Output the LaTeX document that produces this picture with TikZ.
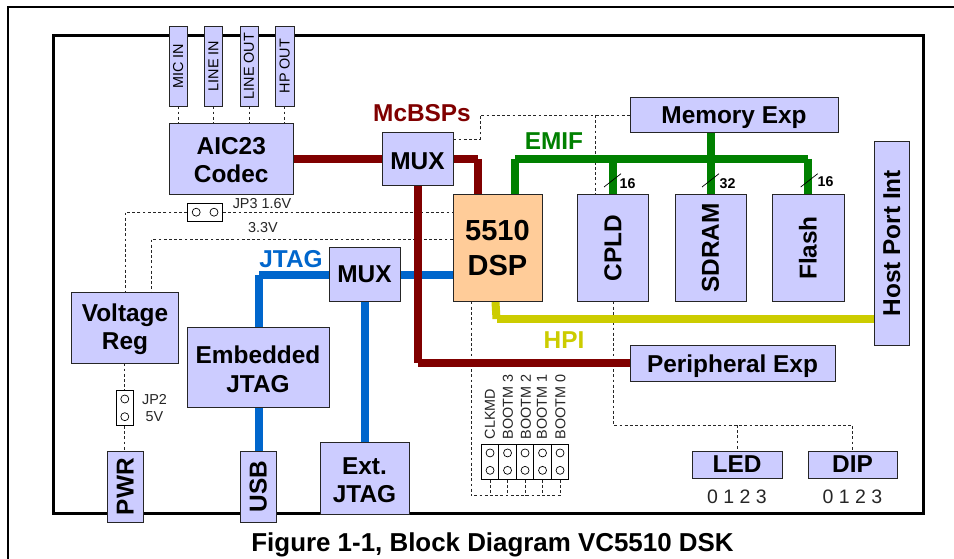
\documentclass[tikz,border=0pt]{standalone}
\usepackage{fontspec}
\usepackage{graphicx}
\setmainfont{Liberation Sans}
\usetikzlibrary{calc}
\pgfdeclarelayer{background}
\pgfsetlayers{background,main}
\definecolor{boxblue}{HTML}{CCCCFF}
\definecolor{dspfill}{HTML}{FFCC99}
\definecolor{busred}{HTML}{800000}
\definecolor{busblue}{HTML}{0066CC}
\definecolor{busgreen}{HTML}{008000}
\definecolor{busyellow}{HTML}{CCCC00}
\newcommand{\bigf}{\fontsize{24.4}{28.3}\selectfont\bfseries}
\newcommand{\smallf}{\fontsize{14.4}{17}\selectfont}
\newcommand{\tall}[1]{\rule{0pt}{#1pt}}
\newcommand{\deep}[1]{\rule[-#1pt]{0pt}{#1pt}}
\newcommand{\bx}[7]{%
  \pgfmathsetmacro{\bxw}{#4-#2}\pgfmathsetmacro{\bxh}{#5-#3}%
  \pgfmathsetmacro{\bxx}{(#4+#2)/2}\pgfmathsetmacro{\bxy}{(#5+#3)/2}%
  \node[#6,minimum width=\bxw pt,minimum height=\bxh pt] (#1) at (\bxx,\bxy) {#7};}
\tikzset{
  bluebox/.style={draw=black!85,line width=0.9pt,fill=boxblue,inner sep=0pt,align=center,font=\bigf},
  portbox/.style={bluebox,font=\smallf},
  dspbox/.style={bluebox,fill=dspfill,font=\fontsize{29}{35}\selectfont\bfseries},
  jumper/.style={draw=black,line width=0.9pt,fill=white,inner sep=0pt},
  pin/.style={circle,draw=black,line width=0.7pt,fill=white,inner sep=0pt,minimum size=8pt},
  sig/.style={draw=black!85,line width=0.85pt,dash pattern=on 2.8pt off 2.4pt},
  bus/.style={line width=8pt},
  redbus/.style={bus,draw=busred},
  bluebus/.style={bus,draw=busblue},
  greenbus/.style={bus,draw=busgreen},
  yellowbus/.style={bus,draw=busyellow},
  slashmark/.style={draw=black,line width=0.7pt},
  buslabel/.style={inner sep=0pt,font=\bigf},
  note/.style={inner sep=0pt,text=black!85,font=\smallf},
  width/.style={inner sep=0pt,font=\fontsize{14.2}{17}\selectfont\bfseries},
  digits/.style={inner sep=0pt,text=black!85,font=\fontsize{19.5}{22}\selectfont},
}
\begin{document}
\begin{tikzpicture}[x=1pt,y=-1pt]
\useasboundingbox (0,0) rectangle (954,559);
\bx{micin}{169}{26}{187.5}{106}{portbox}{\rotatebox{90}{MIC IN}}
\bx{linein}{204.5}{26}{222.5}{106}{portbox}{\rotatebox{90}{LINE IN}}
\bx{lineout}{240}{26}{258}{106}{portbox}{\rotatebox{90}{LINE OUT}}
\bx{hpout}{275.5}{26}{294}{106}{portbox}{\rotatebox{90}{HP OUT}}
\bx{aic}{169}{123.5}{293.5}{194.5}{bluebox}{\tall{19}AIC23\\Codec}
\bx{muxa}{382}{132.5}{453}{185.5}{bluebox}{\tall{21}MUX}
\bx{dsp}{453}{194}{542}{301.5}{dspbox}{5510\\DSP}
\bx{memexp}{630}{97}{838}{132.5}{bluebox}{\tall{23.4}Memory Exp}
\bx{cpld}{577.5}{194.5}{648.5}{301.5}{bluebox}{\rotatebox{90}{CPLD}}
\bx{sdram}{675}{194.5}{746}{301.5}{bluebox}{\rotatebox{90}{SDRAM}}
\bx{flash}{772}{194.5}{844}{301.5}{bluebox}{\rotatebox{90}{Flash}}
\bx{hostport}{874}{141.5}{909.5}{345}{bluebox}{\rotatebox{90}{Host Port Int}}
\bx{perexp}{630}{345}{835}{381}{bluebox}{\tall{23.4}Peripheral Exp}
\bx{led}{692}{451.5}{782}{478.5}{bluebox}{\deep{2.4}LED}
\bx{dip}{808}{451.5}{897}{478.5}{bluebox}{\deep{2.4}DIP}
\bx{muxb}{329}{247.5}{400}{301.5}{bluebox}{MUX}
\bx{vreg}{71.5}{292}{178.5}{363}{bluebox}{\tall{21.5}Voltage\\Reg}
\bx{ejtag}{187}{327}{329}{407.5}{bluebox}{\tall{21.5}Embedded\\JTAG}
\bx{pwr}{107.5}{451.5}{143}{522}{bluebox}{\rotatebox{90}{PWR}}
\bx{usb}{240.5}{451.5}{276}{522}{bluebox}{\rotatebox{90}{USB}}
\bx{xjtag}{320}{442}{409}{514}{bluebox}{\tall{21.5}Ext.\\JTAG}
% jumpers
\bx{jpiii}{187.5}{203.5}{222.5}{221}{jumper}{}
\node[pin] (jpiiia) at (196.2,212.2) {};
\node[pin] (jpiiib) at (214,212.2) {};
\bx{jpii}{116}{390}{133.5}{425.5}{jumper}{}
\node[pin] (jpiia) at (124.8,399) {};
\node[pin] (jpiib) at (124.8,416.7) {};
\bx{ba}{481.3}{444}{498.8}{479.3}{jumper}{}
\bx{bb}{498.8}{444}{516.3}{479.3}{jumper}{}
\bx{bc}{516.3}{444}{533.8}{479.3}{jumper}{}
\bx{bd}{533.8}{444}{551.3}{479.3}{jumper}{}
\bx{be}{551.3}{444}{568.8}{479.3}{jumper}{}
\foreach \n in {ba,bb,bc,bd,be}{
  \node[pin] (\n t) at ($(\n.center)+(0,-8.7)$) {};
  \node[pin] (\n u) at ($(\n.center)+(0,8.7)$) {};
}
% routing points
\coordinate (redtop) at (478,159);
\coordinate (redleft) at (418,363);
\coordinate (redstart) at (418,185.5);
\coordinate (sa) at (480,139);
\coordinate (sb) at (480,115);
\coordinate (sc) at (595.3,115);
\coordinate (sd) at (613,425);
\coordinate (se) at (737,425);
\coordinate (sf) at (852.5,425);
\coordinate (sg) at (613,301.5);
\coordinate (sh) at (125,212.2);
\coordinate (si) at (151.5,239);
\coordinate (sj) at (471,495.7);
\coordinate (sk) at (471,301.5);
\coordinate (bluecorner) at (259,275);
\coordinate (gl) at (515,159);
\coordinate (gr) at (808,159);
\coordinate (ya) at (496.5,319);
\begin{pgfonlayer}{background}
\fill[white] (0,0) rectangle (954,559);
\draw[line width=1.5pt] (8,559) -- (8,7) -- (954,7);
\draw[line width=3pt,miter limit=10] (53.3,35.5) rectangle (923.3,513.7);
% thin signals
\draw[sig] (micin.south) -- (micin.south |- aic.north);
\draw[sig] (linein.south) -- (linein.south |- aic.north);
\draw[sig] (lineout.south) -- (lineout.south |- aic.north);
\draw[sig] (hpout.south) -- (hpout.south |- aic.north);
\draw[sig] (sa -| muxa.east) -- (sa) -- (sb) -- (memexp.west |- sb);
\draw[sig] (sc) -- (sc |- cpld.north);
\draw[sig] (sg) -- (sd) -- (sf) -- (sf |- dip.north);
\draw[sig] (se) -- (se |- led.north);
\draw[sig] (jpiii.west |- sh) -- (sh) -- (sh |- vreg.north);
\draw[sig] (jpiii.east |- sh) -- (dsp.west |- sh);
\draw[sig] (si -| dsp.west) -- (si) -- (si |- vreg.north);
\draw[sig] (jpii.north |- vreg.south) -- (jpii.north);
\draw[sig] (jpii.south) -- (jpii.south |- pwr.north);
\draw[sig] (sk) -- (sj) -- (sj -| be.south);
\draw[sig] (ba.south) -- (ba.south |- sj);
\draw[sig] (bb.south) -- (bb.south |- sj);
\draw[sig] (bc.south) -- (bc.south |- sj);
\draw[sig] (bd.south) -- (bd.south |- sj);
\draw[sig] (be.south) -- (be.south |- sj);
% blue buses
\draw[bluebus] (muxb.west |- bluecorner) -- (bluecorner);
\draw[bluebus] (bluecorner) -- (bluecorner |- ejtag.north);
\draw[bluebus] (muxb.east |- bluecorner) -- (dsp.west |- bluecorner);
\draw[bluebus] (bluecorner |- ejtag.south) -- (bluecorner |- usb.north);
\draw[bluebus] (muxb.south) -- (muxb.south |- xjtag.north);
% red buses
\draw[redbus] (aic.east) -- (muxa.west);
\draw[redbus] (muxa.east) -- (redtop);
\draw[redbus] (redtop) -- (redtop |- dsp.north);
\draw[redbus] (redstart) -- (redleft);
\draw[redbus] (redleft) -- (perexp.west |- redleft);
% green buses
\draw[greenbus] (gl) -- (gr);
\draw[greenbus] (gl) -- (gl |- dsp.north);
\draw[greenbus] (gr) -- (gr |- flash.north);
\draw[greenbus] (cpld.north) -- (cpld.north |- gl);
\draw[greenbus] (memexp.south -| sdram.north) -- (sdram.north);
% yellow bus
\draw[yellowbus] (ya) -- (hostport.west |- ya);
\draw[yellowbus] (ya) -- ($(ya |- dsp.south)+(-1,0)$);
\end{pgfonlayer}
% width marks
\draw[slashmark] (604,187) -- (621,173.7);
\draw[slashmark] (702,187) -- (719,173.7);
\draw[slashmark] (800.7,187) -- (817.7,173.7);
\node[width] (wa) at (627.5,184) {16};
\node[width] (wb) at (727.5,184) {32};
\node[width] (wc) at (825.5,182) {16};
% labels
\node[buslabel,text=busred] (lmcbsp) at (422,113) {McBSPs};
\node[buslabel,text=busgreen] (lemif) at (554,141) {EMIF};
\node[buslabel,text=busblue] (ljtag) at (291,259) {JTAG};
\node[buslabel,text=busyellow] (lhpi) at (564,340) {HPI};
\node[note] (ljpiii) at (262,204) {JP3 1.6V};
\node[note] (lv) at (263,228) {3.3V};
\node[note] (ljpii) at (154.5,400) {JP2};
\node[note] (lvv) at (154.5,417) {5V};
\node[note,rotate=90,anchor=west] (lclk) at (490,439.5) {CLKMD};
\node[note,rotate=90,anchor=west] (lbiii) at (508,439.5) {BOOTM 3};
\node[note,rotate=90,anchor=west] (lbii) at (526,439.5) {BOOTM 2};
\node[note,rotate=90,anchor=west] (lbi) at (542,439.5) {BOOTM 1};
\node[note,rotate=90,anchor=west] (lb) at (560.5,439.5) {BOOTM 0};
\node[digits] (dled) at (737,496.3) {0 1 2 3};
\node[digits] (ddip) at (852.5,496.3) {0 1 2 3};
\node[inner sep=0pt,font=\fontsize{25.9}{30}\selectfont\bfseries] (caption) at (492.5,544.5) {Figure 1-1, Block Diagram VC5510 DSK};
\end{tikzpicture}
\end{document}
